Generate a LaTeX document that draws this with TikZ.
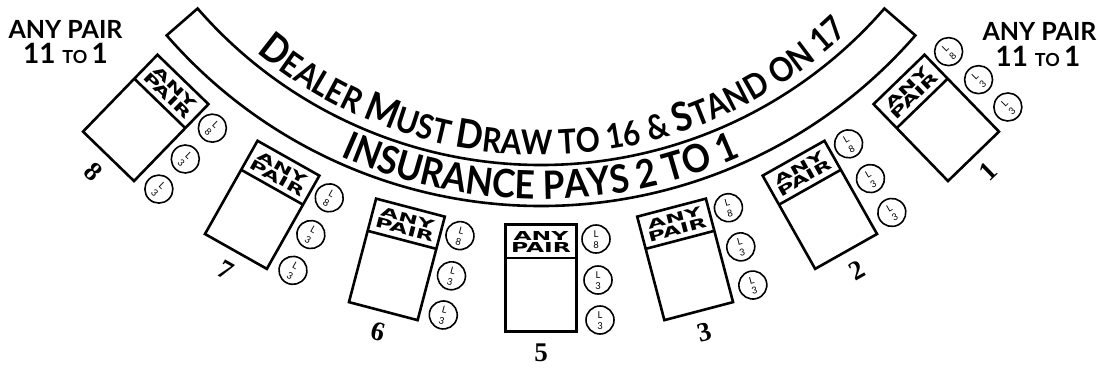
\documentclass[tikz,border=0pt]{standalone}
\usepackage{fontspec}
\usepackage{graphicx}
\setmainfont{Lato}
\newfontfamily\numfont{Liberation Serif}
\newfontfamily\hdrfont{DejaVu Sans}
\newfontfamily\arcfont[FakeStretch=0.88]{Lato}
\newfontfamily\insfont[FakeStretch=0.9]{Lato}
\usetikzlibrary{decorations.text}
\newcommand\bigc{\arcfont\bfseries\fontsize{40}{40}\selectfont}
\newcommand\smc{\arcfont\bfseries\fontsize{34}{34}\selectfont}
\tikzset{
  rail/.style={draw, line width=2.6pt, line join=miter},
  seatbox/.style={draw, line width=2.6pt, minimum width=71pt, minimum height=107pt, inner sep=0pt},
  divider/.style={line width=2.6pt},
  chip/.style={circle, draw, line width=1.6pt, minimum size=28pt, inner sep=0pt},
  chiptext/.style={inner sep=0pt, font=\fontsize{9.5}{9.5}\selectfont},
  seatnum/.style={inner sep=0pt, font=\numfont\bfseries\fontsize{27}{27}\selectfont},
  cornerlabel/.style={inner sep=0pt, font=\bfseries\fontsize{25}{25}\selectfont},
}
\begin{document}
\begin{tikzpicture}[x=1pt,y=1pt]
\useasboundingbox (0,0) rectangle (1100,368);
\fill[white] (0,0) rectangle (1100,368);
\coordinate (C) at (541,658);

% insurance band
\draw[rail] ([shift={(221:455)}]C) arc[start angle=221,end angle=319,radius=455]
  -- ([shift={(319:496)}]C) arc[start angle=319,end angle=221,radius=496] -- cycle;

% dealer text
\path[decorate, decoration={text along path, text align=center,
  text={|\bigc|D|\smc|EALER |\bigc|M|\smc|UST |\bigc|D|\smc|RAW TO 16 {\&} |\bigc|S|\smc|TAND ON 17}}]
  ([shift={(212:445)}]C) arc[start angle=212,end angle=332,radius=445];

% insurance text
\path[decorate, decoration={text along path, text align=center,
  text={|\insfont\bfseries\fontsize{39}{39}\selectfont|INSURANCE PAYS 2 TO 1}}]
  ([shift={(210:489)}]C) arc[start angle=210,end angle=330,radius=489];

% seats
\foreach \k/\n in {-3/8,-2/7,-1/6,0/5,1/3,2/2,3/1} {
  \pgfmathsetmacro\ang{270+14.7*\k}
  \begin{scope}[shift={(C)}, shift={(\ang:568)}, rotate=\ang-270, transform shape]
    \node[seatbox] (seat\n) at (0,0) {};
    \draw[divider] (-35.5,20.2) -- (35.5,20.2);
    \node[inner sep=0pt] (any\n) at (0,42.5) {\resizebox{55pt}{9pt}{\hdrfont\bfseries ANY}};
    \node[inner sep=0pt] (pair\n) at (0,30.8) {\resizebox{60pt}{10pt}{\hdrfont\bfseries PAIR}};
    \foreach \cx/\cy/\d [count=\i] in {55/39/8, 57/-2/3, 59/-42/3} {
      \node[chip] (chip\n-\i) at (\cx,\cy) {};
      \node[chiptext] (chipL\n-\i) at (\cx,\cy+5) {L};
      \node[chiptext] (chipD\n-\i) at (\cx,\cy-6) {\d};
    }
    \node[seatnum] (num\n) at (0,-75) {\n};
  \end{scope}
}

% corner labels
\node[cornerlabel] (apL) at (65.5,339) {ANY PAIR};
\node[cornerlabel] (odL) at (65.5,315) {\fontsize{28}{28}\selectfont 11 \fontsize{18}{18}\selectfont TO \fontsize{28}{28}\selectfont 1};
\node[cornerlabel] (apR) at (1039.5,336.5) {ANY PAIR};
\node[cornerlabel] (odR) at (1038,312) {\fontsize{28}{28}\selectfont 11 \fontsize{18}{18}\selectfont TO \fontsize{28}{28}\selectfont 1};
\end{tikzpicture}
\end{document}
